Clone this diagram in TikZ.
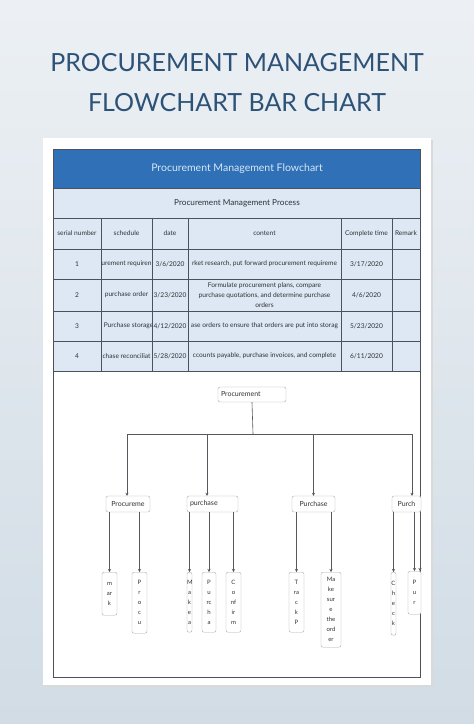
\documentclass[tikz,border=0pt]{standalone}
\usepackage{fontspec}
\setmainfont{Lato}
\usepackage{xcolor}
\usetikzlibrary{arrows.meta}
\definecolor{bgtop}{HTML}{ECF0F4}
\definecolor{bgbot}{HTML}{D1DCE5}
\definecolor{titleblue}{HTML}{2D5278}
\definecolor{headblue}{HTML}{2F70B6}
\definecolor{headtext}{HTML}{D8E7F5}
\definecolor{cellblue}{HTML}{DDE8F4}
\definecolor{gridgray}{HTML}{4D525A}
\definecolor{boxgray}{HTML}{A9ACB0}
\definecolor{linkgray}{HTML}{55585C}
\definecolor{inkgray}{HTML}{2E3136}

\begin{document}
\begin{tikzpicture}[x=1pt, y=-1pt,
cell/.style={font=\fontsize{6.6}{10}\selectfont, text=inkgray, align=center, inner sep=0pt},
fbox/.style={draw=boxgray, rounded corners=2pt, fill=white, font=\fontsize{7}{8}\selectfont, text=inkgray, minimum height=16pt, inner xsep=3pt, inner ysep=0pt},
gbox/.style={draw=boxgray, rounded corners=2pt, fill=white, font=\fontsize{6}{10}\selectfont, text=inkgray, align=center, inner xsep=0pt, inner ysep=2pt, anchor=north},
flow/.style={-{Stealth[length=3pt,width=3pt]}, linkgray, semithick},
grid/.style={gridgray, line width=0.7pt}
]
\shade[top color=bgtop, bottom color=bgbot] (0,0) rectangle (474,724);
\useasboundingbox (0,0) rectangle (474,724);

\node[font=\fontsize{25}{40}\selectfont, text=titleblue, align=center] (title) at (237,83) {PROCUREMENT MANAGEMENT\\FLOWCHART BAR CHART};

\fill[black!15] (44,139.5) rectangle (432.5,686.5);
\fill[white] (43,138) rectangle (431,685);

\fill[headblue] (53,149) rectangle (420,188);
\fill[cellblue] (53,188) rectangle (420,371);
\foreach \y in {188,218,249,279,311,341,371} \draw[grid] (53,\y) -- (420,\y);
\foreach \x in {101,152,188,341,392} \draw[grid] (\x,218) -- (\x,371);
\draw[grid] (53,149) rectangle (420,677);

\node[font=\fontsize{10.5}{12}\selectfont, text=headtext] (hdr) at (237,168.5) {Procurement Management Flowchart};
\node[cell, font=\fontsize{8.2}{10}\selectfont] (sub) at (237,203) {Procurement Management Process};

\node[cell] (h1) at (77,233.5) {serial number};
\node[cell] (h2) at (126.5,233.5) {schedule};
\node[cell] (h3) at (170,233.5) {date};
\node[cell] (h4) at (264.5,233.5) {content};
\node[cell] (h5) at (366.5,233.5) {Complete time};
\node[cell] (h6) at (406,233.5) {Remark};

\node[cell] (n1) at (77,264) {1};
\node[cell] (n2) at (77,295) {2};
\node[cell] (n3) at (77,326) {3};
\node[cell] (n4) at (77,356) {4};

\begin{scope}
\clip (101.5,249) rectangle (151.5,371);
\node[cell] (s1) at (126.5,264) {urement requiren};
\node[cell] (s2) at (126.5,295) {purchase order};
\node[cell] (s3) at (128.5,326) {Purchase storage};
\node[cell] (s4) at (126.5,356) {chase reconciliat};
\end{scope}

\node[cell] (d1) at (170,264) {3/6/2020};
\node[cell] (d2) at (170,295) {3/23/2020};
\node[cell] (d3) at (170,326) {4/12/2020};
\node[cell] (d4) at (170,356) {5/28/2020};

\begin{scope}
\clip (188.5,249) rectangle (340.5,371);
\node[cell] (t1) at (264.5,264) {rket research, put forward procurement requireme};
\node[cell] (t2) at (264.5,295) {Formulate procurement plans, compare\\purchase quotations, and determine purchase\\orders};
\node[cell] (t3) at (264.5,326) {ase orders to ensure that orders are put into storag};
\node[cell] (t4) at (264.5,356) {ccounts payable, purchase invoices, and complete};
\end{scope}

\node[cell] (f1) at (366.5,264) {3/17/2020};
\node[cell] (f2) at (366.5,295) {4/6/2020};
\node[cell] (f3) at (366.5,326) {5/23/2020};
\node[cell] (f4) at (366.5,356) {6/11/2020};

\node[fbox, text width=62pt, align=left, minimum height=15pt] (root) at (252,394.5) {Procurement};
\node[fbox, minimum width=44pt] (c1) at (128,504) {Procureme};
\node[fbox, text width=45pt, align=left] (c2) at (212.5,504) {purchase};
\node[fbox, minimum width=43pt] (c3) at (313.5,504) {Purchase};
\node[fbox, minimum width=29pt] (c4) at (406.5,504) {Purch};

\coordinate (bus) at (253,434);
\draw[linkgray, semithick] (root.south) -- (bus);
\draw[flow] (bus) -| ([xshift=-1pt]c1.north);
\draw[flow] (bus) -| ([xshift=-5.5pt]c2.north);
\draw[flow] (bus) -| (c3.north);
\draw[flow] (bus) -| ([xshift=5.5pt]c4.north);

\node[gbox, text width=15pt, minimum height=43pt] (g1) at (109.5,572) {m\\ar\\k};
\node[gbox, text width=15pt, minimum height=61pt] (g2) at (139.5,572) {P\\r\\o\\c\\u};
\node[gbox, text width=5pt, minimum height=60pt] (g3) at (189.5,572) {M\\a\\k\\e\\a};
\node[gbox, text width=14pt, minimum height=60pt] (g4) at (209,572) {P\\u\\rc\\h\\a};
\node[gbox, text width=15pt, minimum height=60pt] (g5) at (233.5,572) {C\\o\\nf\\ir\\m};
\node[gbox, text width=15pt, minimum height=60pt] (g6) at (296.5,572) {T\\ra\\c\\k\\P};
\node[gbox, text width=20pt, minimum height=75pt] (g7) at (331,572) {Ma\\ke\\sur\\e\\the\\ord\\er};
\node[gbox, text width=5pt, minimum height=63pt] (g8) at (393.5,572) {C\\h\\e\\c\\k};
\node[gbox, text width=13pt, minimum height=43pt] (g9) at (414.5,571) {P\\u\\r};
\coordinate (g10) at (420,571);

\draw[flow] (c1.south -| g1.north) -- (g1.north);
\draw[flow] (c1.south -| g2.north) -- (g2.north);
\draw[flow] (c2.south -| g3.north) -- (g3.north);
\draw[flow] (c2.south -| g4.north) -- (g4.north);
\draw[flow] (c2.south -| g5.north) -- (g5.north);
\draw[flow] (c3.south -| g6.north) -- (g6.north);
\draw[flow] (c3.south -| g7.north) -- (g7.north);
\draw[flow] (c4.south -| g8.north) -- (g8.north);
\draw[flow] (c4.south -| g9.north) -- (g9.north);
\draw[flow] (c4.south -| g10) -- (g10);
\end{tikzpicture}
\end{document}
